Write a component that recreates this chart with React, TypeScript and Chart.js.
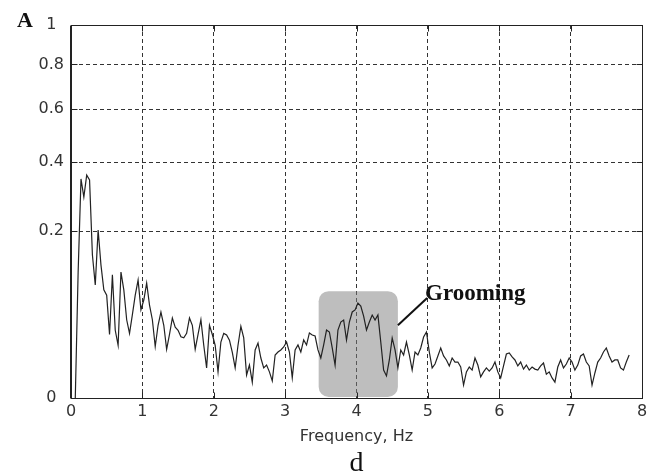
import React, { useEffect, useRef } from 'react';
import { Chart, LinearScale, registerables } from 'chart.js';

// ---- data (frequency in Hz, amplitude) ----
const freqHz = [
  0.06, 0.10, 0.14, 0.18, 0.22, 0.26, 0.30, 0.34, 0.38, 0.42,
  0.46, 0.50, 0.54, 0.58, 0.62, 0.66, 0.70, 0.74, 0.78, 0.82,
  0.86, 0.90, 0.94, 0.98, 1.02, 1.06, 1.10, 1.14, 1.18, 1.22,
  1.26, 1.30, 1.34, 1.38, 1.42, 1.46, 1.50, 1.54, 1.58, 1.62,
  1.66, 1.70, 1.74, 1.78, 1.82, 1.86, 1.90, 1.94, 1.98, 2.02,
  2.06, 2.10, 2.14, 2.18, 2.22, 2.26, 2.30, 2.34, 2.38, 2.42,
  2.46, 2.50, 2.54, 2.58, 2.62, 2.66, 2.70, 2.74, 2.78, 2.82,
  2.86, 2.90, 2.94, 2.98, 3.02, 3.06, 3.10, 3.14, 3.18, 3.22,
  3.26, 3.30, 3.34, 3.38, 3.42, 3.46, 3.50, 3.54, 3.58, 3.62,
  3.66, 3.70, 3.74, 3.78, 3.82, 3.86, 3.90, 3.94, 3.98, 4.02,
  4.06, 4.10, 4.14, 4.18, 4.22, 4.26, 4.30, 4.34, 4.38, 4.42,
  4.46, 4.50, 4.54, 4.58, 4.62, 4.66, 4.70, 4.74, 4.78, 4.82,
  4.86, 4.90, 4.94, 4.98, 5.02, 5.06, 5.10, 5.14, 5.18, 5.22,
  5.26, 5.30, 5.34, 5.38, 5.42, 5.46, 5.50, 5.54, 5.58, 5.62,
  5.66, 5.70, 5.74, 5.78, 5.82, 5.86, 5.90, 5.94, 5.98, 6.02,
  6.06, 6.10, 6.14, 6.18, 6.22, 6.26, 6.30, 6.34, 6.38, 6.42,
  6.46, 6.50, 6.54, 6.58, 6.62, 6.66, 6.70, 6.74, 6.78, 6.82,
  6.86, 6.90, 6.94, 6.98, 7.02, 7.06, 7.10, 7.14, 7.18, 7.22,
  7.26, 7.30, 7.34, 7.38, 7.42, 7.46, 7.50, 7.54, 7.58, 7.62,
  7.66, 7.70, 7.74, 7.78, 7.82,
];

const amplitude = [
  0, 0.114, 0.345, 0.29, 0.357, 0.342, 0.147, 0.092, 0.203, 0.127,
  0.084, 0.076, 0.029, 0.109, 0.033, 0.020, 0.114, 0.084, 0.044, 0.030,
  0.050, 0.076, 0.100, 0.056, 0.069, 0.095, 0.062, 0.044, 0.019, 0.038,
  0.053, 0.038, 0.017, 0.029, 0.046, 0.036, 0.033, 0.027, 0.026, 0.030,
  0.046, 0.038, 0.017, 0.029, 0.044, 0.020, 0.0065, 0.038, 0.029, 0.020,
  0.0049, 0.0225, 0.030, 0.0285, 0.024, 0.015, 0.0065, 0.020, 0.037, 0.026,
  0.0038, 0.0078, 0.0018, 0.0166, 0.0217, 0.0115, 0.0065, 0.0078, 0.0049, 0.0021,
  0.0133, 0.0152, 0.0166, 0.0187, 0.0225, 0.0152, 0.0029, 0.0166, 0.0202, 0.0152,
  0.0242, 0.0202, 0.0304, 0.0285, 0.0276, 0.0166, 0.0115, 0.0202, 0.0332, 0.0313,
  0.018, 0.0078, 0.0332, 0.0415, 0.0437, 0.0242, 0.0415, 0.0532, 0.0557, 0.0649,
  0.0608, 0.0483, 0.0332, 0.0415, 0.0495, 0.0437, 0.0495, 0.0225, 0.0056, 0.0035,
  0.0104, 0.0259, 0.0166, 0.0065, 0.0166, 0.0133, 0.0225, 0.0133, 0.0056, 0.0152,
  0.0133, 0.018, 0.0267, 0.0313, 0.0152, 0.0065, 0.0083, 0.0127, 0.018, 0.0127,
  0.0104, 0.0074, 0.0115, 0.0093, 0.0093, 0.0069, 0.0012, 0.0049, 0.0069, 0.0056,
  0.0115, 0.0078, 0.0032, 0.0049, 0.0065, 0.0052, 0.0065, 0.0093, 0.0049, 0.0029,
  0.0074, 0.0139, 0.0146, 0.0121, 0.0104, 0.0074, 0.0093, 0.006, 0.0078, 0.0056,
  0.0069, 0.006, 0.0056, 0.0074, 0.0088, 0.0041, 0.0049, 0.0029, 0.0018, 0.0069,
  0.0104, 0.0065, 0.0083, 0.0115, 0.0093, 0.0056, 0.0078, 0.0127, 0.0139, 0.0093,
  0.0074, 0.0012, 0.0045, 0.0093, 0.0115, 0.0152, 0.018, 0.0127, 0.0093, 0.0104,
  0.0104, 0.0065, 0.0056, 0.0093, 0.0133,
];

const yTickValues = [0, 0.2, 0.4, 0.6, 0.8, 1];
const yTickLabels = ['0', '0.2', '0.4', '0.6', '0.8', '1'];
const xTickValues = [0, 1, 2, 3, 4, 5, 6, 7, 8];

// annotation (data units)
const groomingBand = [3.47, 4.58];
const groomingBandTop = 0.082;
const groomingLabel = 'Grooming';
const groomingPointer = [[4.58, 0.038], [4.99, 0.072]];
const groomingLabelAt = [4.96, 0.069];

// ---- square-root amplitude scale ----
class SqrtScale extends LinearScale {
  static id = 'sqrt';
  static defaults = LinearScale.defaults;
  getPixelForValue(value: number) {
    const lo = Math.sqrt(Math.max(0, this.min));
    const hi = Math.sqrt(Math.max(0, this.max));
    const v = Math.sqrt(Math.max(0, value));
    return this.getPixelForDecimal((v - lo) / (hi - lo));
  }
  getValueForPixel(pixel: number) {
    const lo = Math.sqrt(Math.max(0, this.min));
    const hi = Math.sqrt(Math.max(0, this.max));
    const s = lo + this.getDecimalForPixel(pixel) * (hi - lo);
    return s * s;
  }
}

Chart.register(...registerables, SqrtScale as any);

const overlayPlugin = {
  id: 'overlay',
  beforeDatasetsDraw(chart: any) {
    const { ctx, scales } = chart;
    const x = scales.x, y = scales.y;
    const x0 = x.getPixelForValue(groomingBand[0]);
    const x1 = x.getPixelForValue(groomingBand[1]);
    const y0 = y.getPixelForValue(groomingBandTop);
    const y1 = y.getPixelForValue(0) - 1;
    ctx.save();
    ctx.fillStyle = 'rgba(125,125,125,0.5)';
    ctx.beginPath();
    (ctx as any).roundRect(x0, y0, x1 - x0, y1 - y0, 10);
    ctx.fill();
    ctx.restore();
  },
  afterDatasetsDraw(chart: any) {
    const { ctx, chartArea: a, scales } = chart;
    const x = scales.x, y = scales.y;
    ctx.save();
    ctx.setLineDash([]);
    ctx.strokeStyle = '#222';
    ctx.lineWidth = 1;
    const L = Math.round(a.left) + 0.5, T = Math.round(a.top) + 0.5;
    const R = Math.round(a.right) + 0.5, B = Math.round(a.bottom) + 0.5;
    ctx.strokeRect(L, T, R - L, B - T);
    ctx.beginPath();
    ctx.moveTo(L - 1, T); ctx.lineTo(L - 1, B);
    xTickValues.forEach((v) => {
      const px = Math.round(x.getPixelForValue(v)) + 0.5;
      ctx.moveTo(px, B); ctx.lineTo(px, B - 6);
      ctx.moveTo(px, T); ctx.lineTo(px, T + 6);
    });
    yTickValues.forEach((v) => {
      const py = Math.round(y.getPixelForValue(v)) + 0.5;
      ctx.moveTo(L, py); ctx.lineTo(L + 6, py);
      ctx.moveTo(R, py); ctx.lineTo(R - 6, py);
    });
    ctx.stroke();

    // pointer line
    ctx.lineWidth = 2;
    ctx.strokeStyle = '#111';
    ctx.beginPath();
    ctx.moveTo(x.getPixelForValue(groomingPointer[0][0]), y.getPixelForValue(groomingPointer[0][1]));
    ctx.lineTo(x.getPixelForValue(groomingPointer[1][0]), y.getPixelForValue(groomingPointer[1][1]));
    ctx.stroke();

    ctx.fillStyle = '#111';
    ctx.font = 'bold 23px "Liberation Serif", "Times New Roman", serif';
    ctx.textAlign = 'left';
    ctx.textBaseline = 'alphabetic';
    ctx.fillText(groomingLabel, x.getPixelForValue(groomingLabelAt[0]), y.getPixelForValue(groomingLabelAt[1]));

    // panel letters
    ctx.font = 'bold 22px "Liberation Serif", "Times New Roman", serif';
    ctx.fillText('A', a.left - 54, a.top + 2);
    ctx.font = '28px "Liberation Serif", "Times New Roman", serif';
    ctx.textAlign = 'center';
    ctx.fillText('d', (a.left + a.right) / 2, 471);
    ctx.restore();
  },
};

export default function App() {
  const ref = useRef<HTMLCanvasElement | null>(null);
  useEffect(() => {
    if (!ref.current) return;
    const tickFont = { family: '"DejaVu Sans", sans-serif', size: 16 };
    const chart = new Chart(ref.current, {
      type: 'line',
      data: {
        datasets: [
          {
            data: freqHz.map((f, i) => ({ x: f, y: amplitude[i] })),
            borderColor: '#222',
            borderWidth: 1.2,
            pointRadius: 0,
            tension: 0,
            fill: false,
          },
        ],
      },
      options: {
        responsive: false,
        animation: false,
        events: [],
        layout: { padding: { left: 8, right: 10, top: 25, bottom: 26 } },
        plugins: { legend: { display: false }, tooltip: { enabled: false }, title: { display: false } },
        scales: {
          x: {
            type: 'linear',
            min: 0,
            max: 8,
            afterFit: (s: any) => { s.height = 50; },
            afterBuildTicks: (s: any) => { s.ticks = xTickValues.map((v) => ({ value: v })); },
            ticks: { color: '#333', font: tickFont, padding: 4, maxRotation: 0, autoSkip: false },
            grid: { color: '#333', lineWidth: 1, drawTicks: false },
            border: { display: true, color: '#222', dash: [4, 3] },
            title: { display: true, text: 'Frequency, Hz', color: '#333', font: tickFont, padding: { top: 0, bottom: 2 } },
          },
          y: {
            type: 'sqrt' as any,
            min: 0,
            max: 1,
            afterFit: (s: any) => { s.width = 63; },
            afterBuildTicks: (s: any) => { s.ticks = yTickValues.map((v) => ({ value: v })); },
            ticks: {
              color: '#333',
              font: tickFont,
              padding: 7,
              crossAlign: 'center',
              autoSkip: false,
              callback: (_v: any, i: number) => yTickLabels[i],
            },
            grid: { color: '#333', lineWidth: 1, drawTicks: false },
            border: { display: true, color: '#222', dash: [4, 3] },
          },
        },
      } as any,
      plugins: [overlayPlugin],
    });
    return () => chart.destroy();
  }, []);
  return (
    <div style={{ position: 'absolute', left: 0, top: 0, width: 652, height: 474, background: '#fff' }}>
      <canvas ref={ref} width={652} height={474} />
    </div>
  );
}
